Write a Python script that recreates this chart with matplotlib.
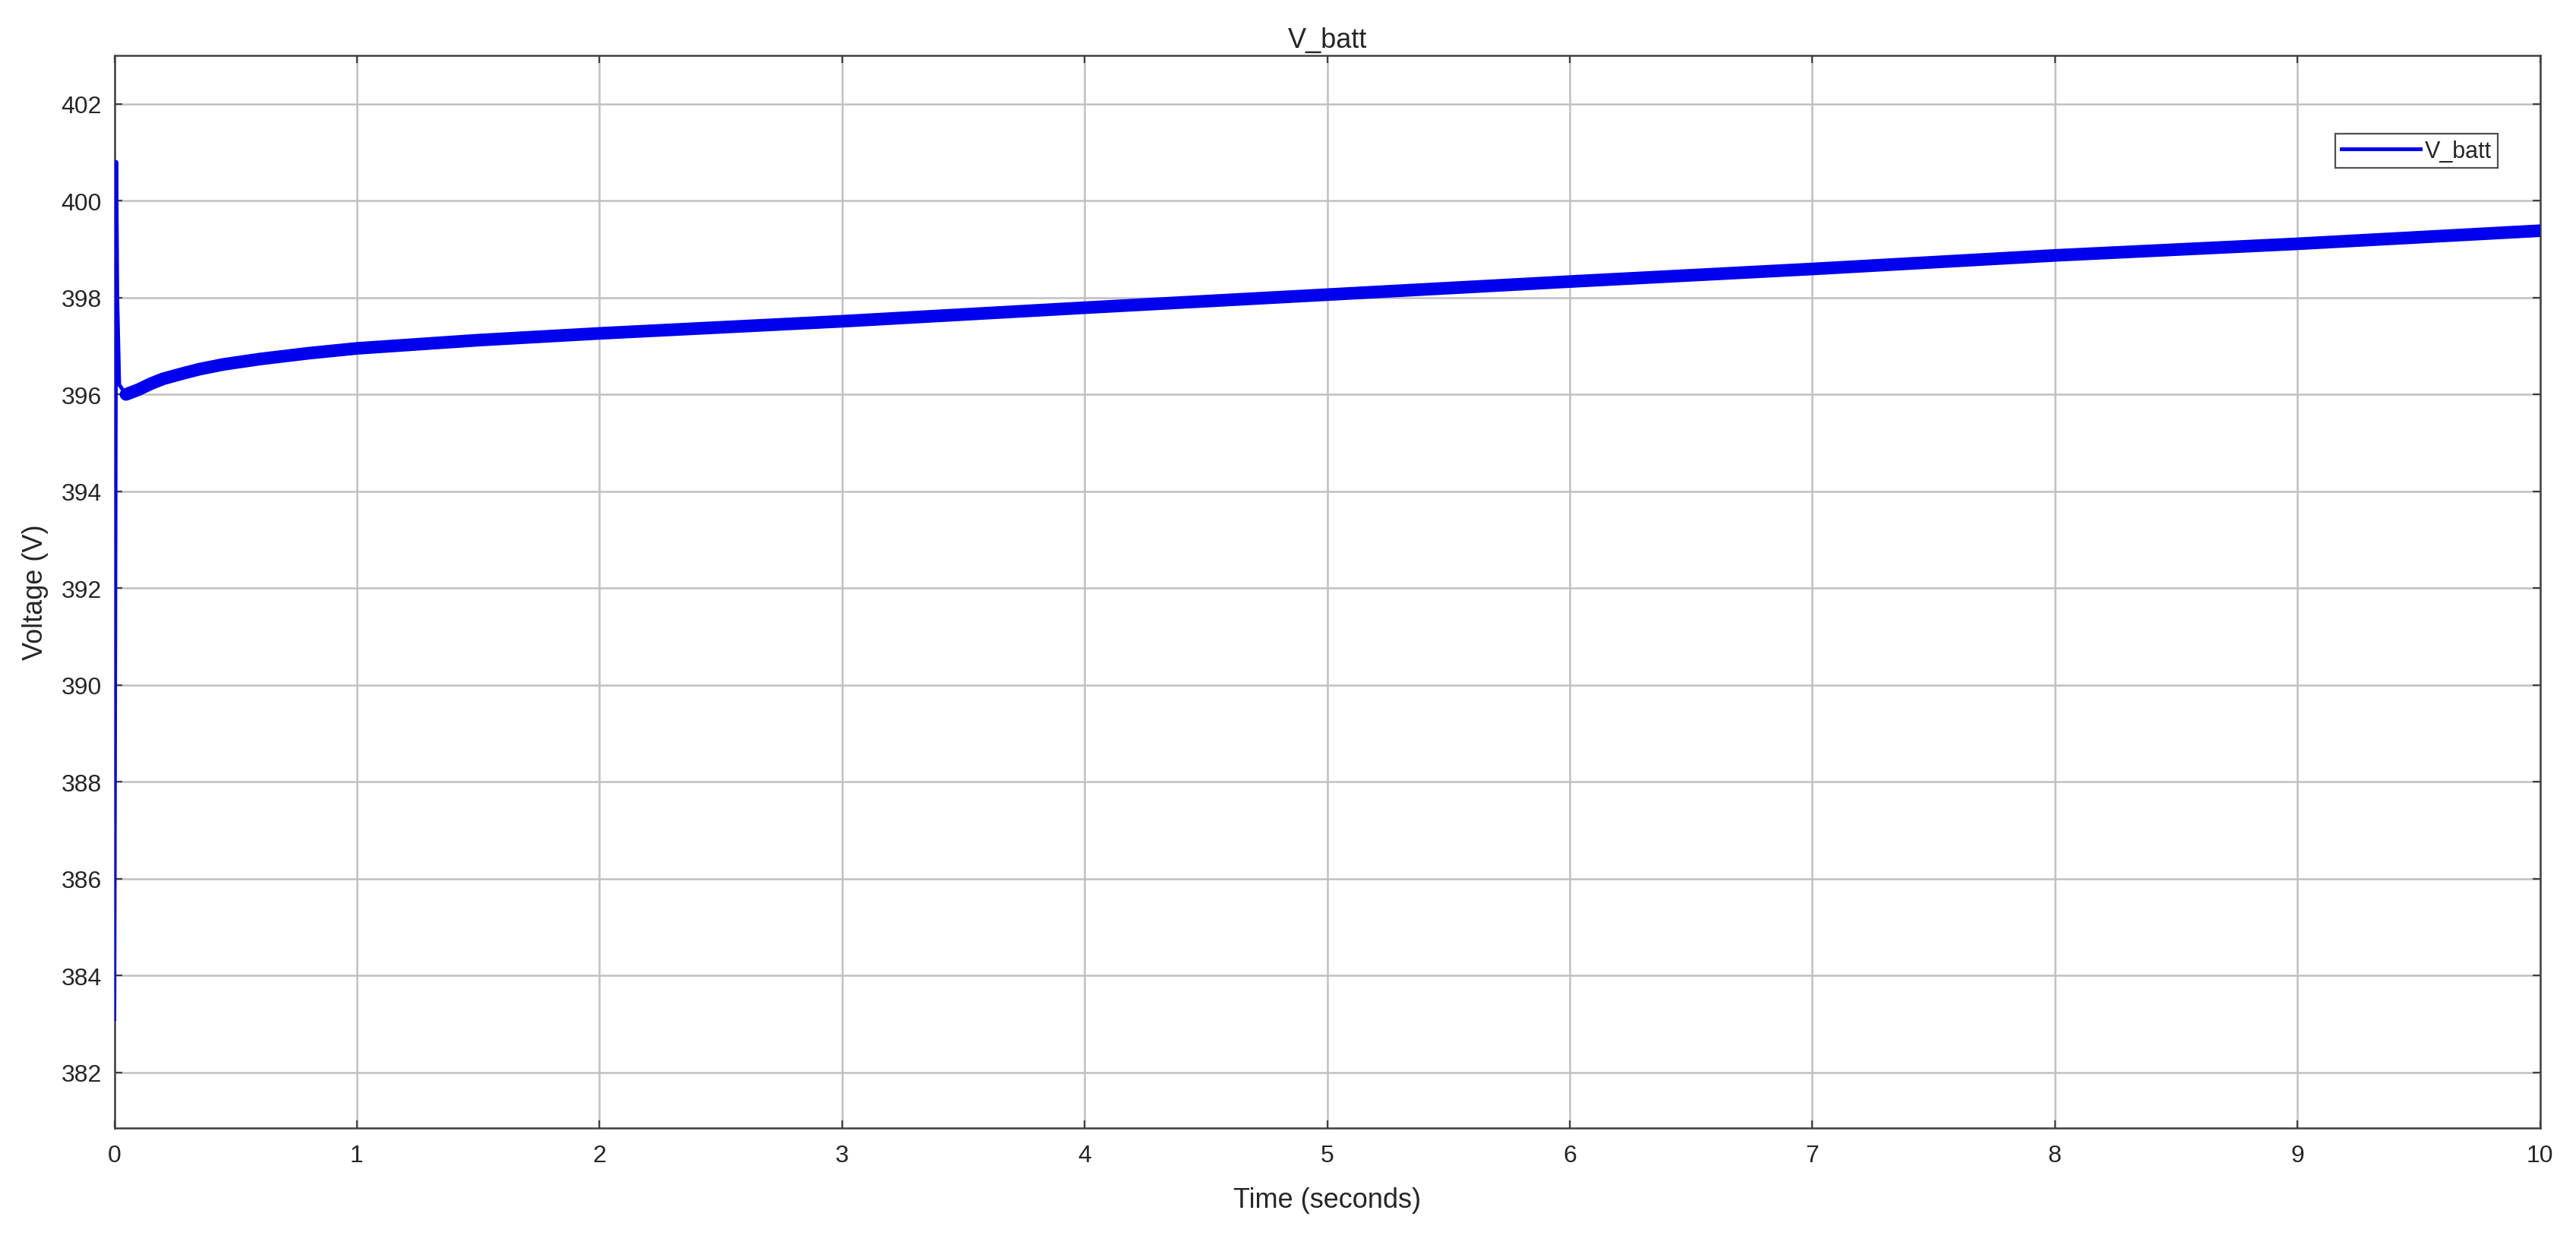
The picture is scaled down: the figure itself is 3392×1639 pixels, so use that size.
import matplotlib
matplotlib.use('Agg')
import matplotlib.pyplot as plt
from matplotlib.lines import Line2D

plt.rcParams['font.family'] = ['Liberation Sans', 'DejaVu Sans']

# data
time_s = [0.0, 0.008, 0.012, 0.02, 0.048, 0.1, 0.15, 0.2, 0.28, 0.35, 0.45, 0.6, 0.8, 1.0,
          1.5, 2.0, 3.0, 4.0, 5.0, 6.0, 7.0, 8.0, 9.0, 10.0]
v_batt = [383.1, 400.8, 398.0, 396.2, 396.0, 396.1, 396.22, 396.32, 396.43, 396.52, 396.62, 396.73,
          396.85, 396.95, 397.12, 397.26, 397.51, 397.79, 398.06, 398.33, 398.59, 398.87, 399.11, 399.38]
# index where the ripple band starts (minimum after the spike)
band_start = 4

x_ticks = list(range(0, 11))
y_ticks = list(range(382, 403, 2))

blue = '#0000ee'
dark = '#262626'

fig = plt.figure(figsize=(16.96, 8.2), dpi=200)
ax = fig.add_axes([0.0444, 0.0939, 0.9416, 0.861])

# thin trace (whole signal) + thick band where the ripple makes it wide
ax.plot(time_s, v_batt, color=blue, lw=1.8, zorder=3)
ax.plot(time_s[band_start:], v_batt[band_start:], color=blue, lw=6.0,
        solid_capstyle='round', solid_joinstyle='round', zorder=3)

ax.set_xlim(0, 10)
ax.set_ylim(380.85, 403.0)
ax.set_xticks(x_ticks)
ax.set_yticks(y_ticks)

ax.grid(True, color='#c0c0c0', lw=0.9)
ax.set_axisbelow(True)
for s in ax.spines.values():
    s.set_color('#404040')
    s.set_linewidth(0.9)

ax.tick_params(direction='in', top=True, right=True, length=3.6, width=0.8,
               color='#404040', labelsize=11.5, labelcolor=dark)
ax.tick_params(axis='x', pad=7.5)
ax.tick_params(axis='y', pad=6)

ax.set_title('V_batt', fontsize=13, color=dark, pad=4)
ax.set_xlabel('Time (seconds)', fontsize=13, color=dark, labelpad=9.5)
ax.set_ylabel('Voltage (V)', fontsize=13, color=dark, labelpad=6)

handle = Line2D([], [], color=blue, lw=1.8)
leg = ax.legend([handle], ['V_batt'], loc='upper right',
                bbox_to_anchor=(0.9873, 0.9379), fontsize=11,
                handlelength=3.4, handletextpad=0.2, borderpad=0.25,
                fancybox=False, framealpha=1, edgecolor='#505050')
leg.get_frame().set_linewidth(0.8)
for t in leg.get_texts():
    t.set_color(dark)

fig.savefig('out.png', dpi=200, facecolor='white')
